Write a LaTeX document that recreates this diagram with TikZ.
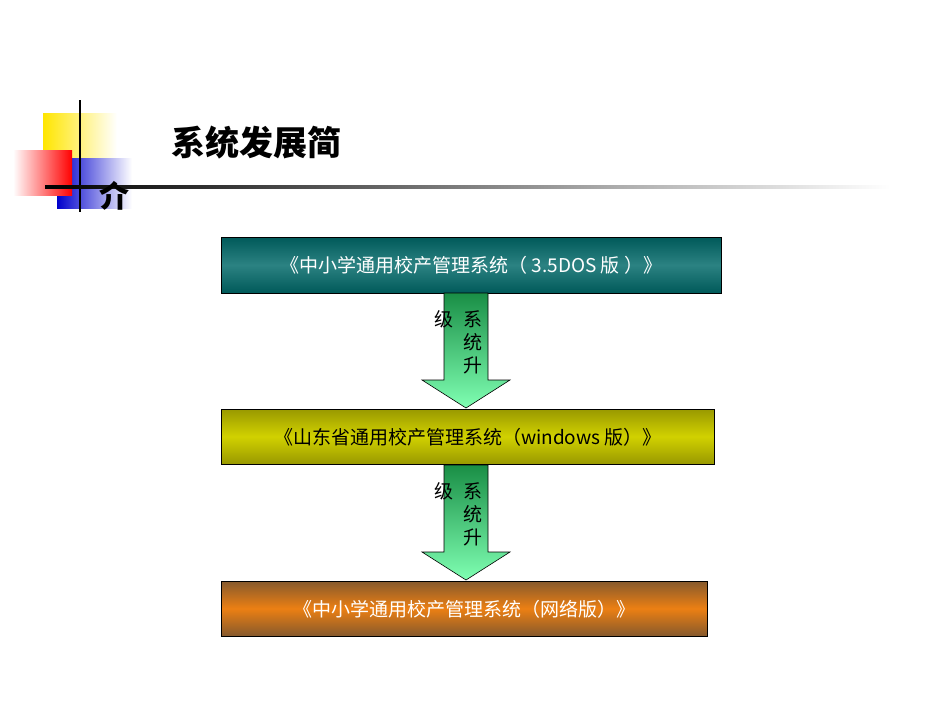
\documentclass[tikz,border=0pt]{standalone}
\usepackage{fontspec}
\setmainfont{Noto Sans CJK SC}
\usetikzlibrary{shadings}
\begin{document}
\begin{tikzpicture}[x=1pt,y=-1pt,
  box/.style={draw=black,line width=0.8pt,minimum height=56pt,anchor=north west,inner sep=0pt},
  lbl/.style={font=\fontsize{19}{19}\selectfont,inner sep=0pt},
  arr/.style={draw=black,line width=0.6pt,top color=teal!55!green!70!black!90,bottom color=green!60!cyan!50!white}]
\useasboundingbox (0,0) rectangle (950,713);
% decoration
\shade[left color=yellow!80!orange,right color=white] (43,113) rectangle (117,160);
\shade[left color=blue!80!black,right color=white] (57,158) rectangle (132,208);
\shade[left color=white,right color=red] (13,150) rectangle (72,195);
\draw[line width=1.5pt] (80,100) -- (80,212);
\shade[left color=black,right color=white] (45,185) rectangle (890,188);
\node[font=\fontsize{34}{34}\bfseries\selectfont,anchor=west] (title) at (168,143) {系统发展简};
\node[font=\fontsize{30}{30}\bfseries\selectfont] (jie) at (114,196) {介};
% boxes
\shade[top color=teal!70!black,bottom color=teal!70!black,middle color=teal!80!white!85!black] (221,237) rectangle (721,293);
\node[box,minimum width=500pt,text=white,font=\fontsize{19}{19}\selectfont] (b1) at (221,237) {《中小学通用校产管理系统（ 3.5DOS 版 ）》};
\shade[top color=olive!80!yellow,bottom color=olive!80!yellow,middle color=yellow!60!olive!90!white] (221,409) rectangle (714,464);
\node[box,minimum width=493pt,minimum height=55pt,font=\fontsize{19}{19}\selectfont] (b2) at (221,409) {《山东省通用校产管理系统（windows 版）》};
\shade[top color=brown!70!black,bottom color=brown!70!black,middle color=orange!70!brown] (221,581) rectangle (707,636);
\node[box,minimum width=486pt,minimum height=55pt,text=white,font=\fontsize{19}{19}\selectfont] (b3) at (221,581) {《中小学通用校产管理系统（网络版）》};
% arrows
\foreach \o/\n in {0/a1,172/a2}{
  \draw[arr] (444,293+\o) -- (488,293+\o) -- (488,380+\o) -- (510,380+\o) -- (466,408+\o) -- (422,380+\o) -- (444,380+\o) -- cycle;
  \node[lbl] (\n j) at (444,319+\o) {级};
  \node[lbl] (\n x) at (473,319+\o) {系};
  \node[lbl] (\n t) at (473,342+\o) {统};
  \node[lbl] (\n s) at (473,365+\o) {升};
}
\end{tikzpicture}
\end{document}
